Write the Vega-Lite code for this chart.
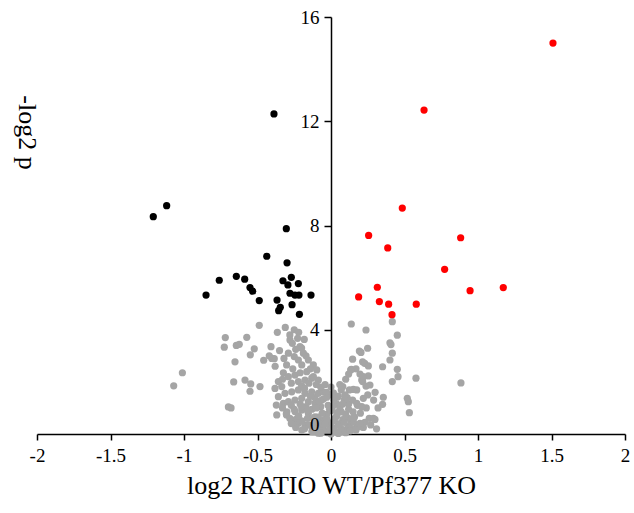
{
  "$schema": "https://vega.github.io/schema/vega-lite/v6.json",
  "width": 588,
  "height": 417,
  "autosize": "none",
  "padding": {"left": 37, "top": 17, "right": 9, "bottom": 79},
  "background": "white",
  "view": {"stroke": null},
  "config": {"font": "Liberation Serif"},
  "data": {"values": [
    {"x": -1.011, "y": 2.35, "g": "gray"}, {"x": -1.07, "y": 1.85, "g": "gray"}, {"x": -0.719, "y": 3.7, "g": "gray"},
    {"x": -0.726, "y": 3.33, "g": "gray"}, {"x": -0.644, "y": 3.4, "g": "gray"}, {"x": -0.624, "y": 3.44, "g": "gray"},
    {"x": -0.573, "y": 3.71, "g": "gray"}, {"x": -0.522, "y": 3.27, "g": "gray"}, {"x": -0.549, "y": 3.04, "g": "gray"},
    {"x": -0.653, "y": 2.77, "g": "gray"}, {"x": -0.662, "y": 2.0, "g": "gray"}, {"x": -0.585, "y": 2.07, "g": "gray"},
    {"x": -0.546, "y": 1.92, "g": "gray"}, {"x": -0.551, "y": 1.64, "g": "gray"}, {"x": -0.698, "y": 1.04, "g": "gray"},
    {"x": -0.68, "y": 1.0, "g": "gray"}, {"x": -0.488, "y": 4.17, "g": "gray"}, {"x": -0.483, "y": 1.82, "g": "gray"},
    {"x": -0.365, "y": 3.9, "g": "gray"}, {"x": -0.311, "y": 4.09, "g": "gray"}, {"x": -0.458, "y": 2.83, "g": "gray"},
    {"x": -0.386, "y": 2.89, "g": "gray"}, {"x": -0.372, "y": 1.11, "g": "gray"}, {"x": -0.369, "y": 0.73, "g": "gray"},
    {"x": -0.304, "y": 0.77, "g": "gray"}, {"x": -0.256, "y": 0.41, "g": "gray"}, {"x": -0.408, "y": 3.35, "g": "gray"},
    {"x": -0.403, "y": 2.9, "g": "gray"}, {"x": -0.302, "y": 2.65, "g": "gray"}, {"x": -0.324, "y": 2.35, "g": "gray"},
    {"x": -0.279, "y": 3.61, "g": "gray"}, {"x": -0.263, "y": 3.48, "g": "gray"}, {"x": -0.227, "y": 3.67, "g": "gray"},
    {"x": -0.182, "y": 3.63, "g": "gray"}, {"x": -0.24, "y": 3.25, "g": "gray"}, {"x": -0.211, "y": 3.35, "g": "gray"},
    {"x": -0.29, "y": 3.1, "g": "gray"}, {"x": -0.25, "y": 2.97, "g": "gray"}, {"x": -0.188, "y": 3.1, "g": "gray"},
    {"x": -0.222, "y": 2.84, "g": "gray"}, {"x": -0.154, "y": 2.84, "g": "gray"}, {"x": -0.199, "y": 2.65, "g": "gray"},
    {"x": -0.12, "y": 2.65, "g": "gray"}, {"x": -0.165, "y": 2.39, "g": "gray"}, {"x": -0.097, "y": 2.46, "g": "gray"},
    {"x": -0.29, "y": 2.2, "g": "gray"}, {"x": -0.245, "y": 2.26, "g": "gray"}, {"x": -0.222, "y": 2.01, "g": "gray"},
    {"x": -0.177, "y": 2.07, "g": "gray"}, {"x": -0.131, "y": 2.14, "g": "gray"}, {"x": -0.086, "y": 2.07, "g": "gray"},
    {"x": -0.358, "y": 2.01, "g": "gray"}, {"x": -0.335, "y": 1.82, "g": "gray"}, {"x": -0.381, "y": 1.75, "g": "gray"},
    {"x": -0.313, "y": 1.56, "g": "gray"}, {"x": -0.267, "y": 1.62, "g": "gray"}, {"x": -0.222, "y": 1.69, "g": "gray"},
    {"x": -0.177, "y": 1.56, "g": "gray"}, {"x": -0.131, "y": 1.62, "g": "gray"}, {"x": -0.086, "y": 1.56, "g": "gray"},
    {"x": -0.052, "y": 1.62, "g": "gray"}, {"x": -0.358, "y": 1.43, "g": "gray"}, {"x": -0.324, "y": 1.18, "g": "gray"},
    {"x": -0.29, "y": 1.24, "g": "gray"}, {"x": -0.245, "y": 1.3, "g": "gray"}, {"x": -0.199, "y": 1.37, "g": "gray"},
    {"x": -0.154, "y": 1.24, "g": "gray"}, {"x": -0.109, "y": 1.18, "g": "gray"}, {"x": -0.063, "y": 1.3, "g": "gray"},
    {"x": -0.302, "y": 0.73, "g": "gray"}, {"x": -0.245, "y": 0.86, "g": "gray"}, {"x": -0.199, "y": 0.92, "g": "gray"},
    {"x": -0.154, "y": 0.79, "g": "gray"}, {"x": -0.109, "y": 0.66, "g": "gray"}, {"x": -0.267, "y": 0.54, "g": "gray"},
    {"x": -0.222, "y": 0.41, "g": "gray"}, {"x": -0.177, "y": 0.35, "g": "gray"}, {"x": -0.131, "y": 0.28, "g": "gray"},
    {"x": -0.086, "y": 0.35, "g": "gray"}, {"x": -0.063, "y": 0.54, "g": "gray"}, {"x": -0.199, "y": 0.15, "g": "gray"},
    {"x": -0.12, "y": 0.09, "g": "gray"}, {"x": -0.086, "y": 0.03, "g": "gray"},
    {"x": -0.42, "y": 3.0, "g": "gray"}, {"x": -0.38, "y": 2.6, "g": "gray"}, {"x": -0.35, "y": 3.2, "g": "gray"},
    {"x": -0.32, "y": 2.9, "g": "gray"}, {"x": -0.28, "y": 3.8, "g": "gray"}, {"x": -0.25, "y": 4.0, "g": "gray"},
    {"x": -0.22, "y": 3.9, "g": "gray"}, {"x": -0.2, "y": 3.3, "g": "gray"}, {"x": -0.17, "y": 3.0, "g": "gray"},
    {"x": -0.14, "y": 2.5, "g": "gray"}, {"x": -0.12, "y": 2.2, "g": "gray"}, {"x": -0.1, "y": 1.9, "g": "gray"},
    {"x": -0.07, "y": 1.8, "g": "gray"}, {"x": -0.04, "y": 1.9, "g": "gray"},
    {"x": -0.33, "y": 2.1, "g": "gray"}, {"x": -0.27, "y": 1.95, "g": "gray"}, {"x": -0.2, "y": 1.85, "g": "gray"},
    {"x": -0.15, "y": 1.95, "g": "gray"}, {"x": -0.26, "y": 2.5, "g": "gray"}, {"x": -0.21, "y": 2.35, "g": "gray"},
    {"x": -0.27, "y": 1.1, "g": "gray"}, {"x": -0.21, "y": 1.15, "g": "gray"}, {"x": -0.17, "y": 1.05, "g": "gray"},
    {"x": -0.13, "y": 0.95, "g": "gray"}, {"x": -0.23, "y": 0.6, "g": "gray"}, {"x": -0.16, "y": 0.6, "g": "gray"},
    {"x": -0.11, "y": 0.45, "g": "gray"}, {"x": -0.04, "y": 0.1, "g": "gray"}, {"x": 0.02, "y": 0.22, "g": "gray"},
    {"x": 0.08, "y": 0.1, "g": "gray"}, {"x": 0.11, "y": 0.2, "g": "gray"}, {"x": -0.06, "y": 0.25, "g": "gray"},
    {"x": 0.06, "y": 0.4, "g": "gray"}, {"x": -0.02, "y": 0.45, "g": "gray"}, {"x": 0.12, "y": 0.6, "g": "gray"},
    {"x": 0.07, "y": 0.85, "g": "gray"}, {"x": -0.03, "y": 0.75, "g": "gray"}, {"x": -0.07, "y": 1.05, "g": "gray"},
    {"x": 0.04, "y": 1.15, "g": "gray"}, {"x": 0.12, "y": 1.15, "g": "gray"}, {"x": -0.11, "y": 1.4, "g": "gray"},
    {"x": 0.0, "y": 1.5, "g": "gray"}, {"x": 0.09, "y": 1.3, "g": "gray"}, {"x": -0.01, "y": 0.95, "g": "gray"},
    {"x": -0.02, "y": 0.05, "g": "gray"}, {"x": 0.03, "y": 0.1, "g": "gray"}, {"x": 0.07, "y": 0.2, "g": "gray"},
    {"x": -0.05, "y": 0.15, "g": "gray"}, {"x": 0.1, "y": 0.05, "g": "gray"}, {"x": -0.1, "y": 0.2, "g": "gray"},
    {"x": 0.0, "y": 0.3, "g": "gray"}, {"x": 0.05, "y": 0.35, "g": "gray"}, {"x": -0.08, "y": 0.4, "g": "gray"},
    {"x": 0.12, "y": 0.3, "g": "gray"}, {"x": -0.15, "y": 0.35, "g": "gray"}, {"x": 0.15, "y": 0.2, "g": "gray"},
    {"x": 0.02, "y": 0.5, "g": "gray"}, {"x": -0.03, "y": 0.6, "g": "gray"}, {"x": 0.08, "y": 0.55, "g": "gray"},
    {"x": -0.12, "y": 0.6, "g": "gray"}, {"x": 0.14, "y": 0.45, "g": "gray"}, {"x": 0.18, "y": 0.35, "g": "gray"},
    {"x": -0.2, "y": 0.5, "g": "gray"}, {"x": 0.04, "y": 0.7, "g": "gray"}, {"x": -0.06, "y": 0.8, "g": "gray"},
    {"x": 0.1, "y": 0.75, "g": "gray"}, {"x": -0.16, "y": 0.9, "g": "gray"}, {"x": 0.0, "y": 0.9, "g": "gray"},
    {"x": 0.06, "y": 1.0, "g": "gray"}, {"x": -0.1, "y": 1.0, "g": "gray"}, {"x": 0.12, "y": 0.95, "g": "gray"},
    {"x": -0.02, "y": 1.1, "g": "gray"}, {"x": 0.08, "y": 1.15, "g": "gray"}, {"x": -0.2, "y": 1.05, "g": "gray"},
    {"x": -0.25, "y": 0.95, "g": "gray"}, {"x": 0.02, "y": 1.3, "g": "gray"}, {"x": -0.08, "y": 1.25, "g": "gray"},
    {"x": 0.05, "y": 1.45, "g": "gray"}, {"x": -0.14, "y": 1.45, "g": "gray"}, {"x": 0.11, "y": 1.4, "g": "gray"},
    {"x": -0.03, "y": 1.6, "g": "gray"}, {"x": 0.07, "y": 1.7, "g": "gray"}, {"x": -0.18, "y": 1.75, "g": "gray"},
    {"x": 0.0, "y": 1.8, "g": "gray"}, {"x": -0.22, "y": 0.7, "g": "gray"}, {"x": -0.28, "y": 0.6, "g": "gray"},
    {"x": 0.2, "y": 0.8, "g": "gray"}, {"x": 0.24, "y": 1.0, "g": "gray"}, {"x": 0.18, "y": 1.1, "g": "gray"},
    {"x": -0.3, "y": 0.85, "g": "gray"}, {"x": -0.33, "y": 1.0, "g": "gray"}, {"x": 0.26, "y": 0.6, "g": "gray"},
    {"x": 0.22, "y": 0.25, "g": "gray"}, {"x": -0.24, "y": 0.25, "g": "gray"}, {"x": 0.0, "y": 0.0, "g": "gray"},
    {"x": 0.05, "y": 0.02, "g": "gray"}, {"x": -0.07, "y": 0.03, "g": "gray"}, {"x": 0.13, "y": 0.12, "g": "gray"},
    {"x": -0.13, "y": 0.1, "g": "gray"}, {"x": 0.09, "y": 0.45, "g": "gray"}, {"x": -0.01, "y": 0.2, "g": "gray"},
    {"x": 0.16, "y": 0.65, "g": "gray"}, {"x": -0.18, "y": 0.2, "g": "gray"}, {"x": 0.27, "y": 0.35, "g": "gray"},
    {"x": 0.31, "y": 0.2, "g": "gray"}, {"x": -0.27, "y": 0.4, "g": "gray"}, {"x": -0.04, "y": 0.38, "g": "gray"},
    {"x": 0.03, "y": 0.62, "g": "gray"}, {"x": -0.09, "y": 0.65, "g": "gray"}, {"x": 0.01, "y": 1.05, "g": "gray"},
    {"x": 0.15, "y": 0.85, "g": "gray"}, {"x": -0.05, "y": 1.35, "g": "gray"}, {"x": 0.04, "y": 0.82, "g": "gray"},
    {"x": 0.06, "y": 1.9, "g": "gray"}, {"x": 0.1, "y": 2.1, "g": "gray"}, {"x": 0.12, "y": 2.3, "g": "gray"},
    {"x": 0.17, "y": 2.5, "g": "gray"}, {"x": 0.3, "y": 1.6, "g": "gray"}, {"x": 0.32, "y": 1.0, "g": "gray"},
    {"x": 0.29, "y": 1.3, "g": "gray"}, {"x": 0.25, "y": 1.5, "g": "gray"}, {"x": 0.23, "y": 0.45, "g": "gray"},
    {"x": 0.138, "y": 4.22, "g": "gray"}, {"x": 0.238, "y": 3.99, "g": "gray"}, {"x": 0.193, "y": 3.18, "g": "gray"},
    {"x": 0.204, "y": 3.13, "g": "gray"}, {"x": 0.249, "y": 3.29, "g": "gray"}, {"x": 0.147, "y": 2.87, "g": "gray"},
    {"x": 0.138, "y": 2.48, "g": "gray"}, {"x": 0.215, "y": 2.77, "g": "gray"}, {"x": 0.229, "y": 2.71, "g": "gray"},
    {"x": 0.254, "y": 2.61, "g": "gray"}, {"x": 0.197, "y": 2.3, "g": "gray"}, {"x": 0.209, "y": 2.07, "g": "gray"},
    {"x": 0.254, "y": 2.23, "g": "gray"}, {"x": 0.265, "y": 1.88, "g": "gray"}, {"x": 0.175, "y": 1.69, "g": "gray"},
    {"x": 0.288, "y": 0.6, "g": "gray"}, {"x": 0.197, "y": 0.28, "g": "gray"}, {"x": 0.152, "y": 0.47, "g": "gray"},
    {"x": 0.401, "y": 3.5, "g": "gray"}, {"x": 0.417, "y": 3.1, "g": "gray"}, {"x": 0.401, "y": 2.84, "g": "gray"},
    {"x": 0.351, "y": 2.58, "g": "gray"}, {"x": 0.451, "y": 2.48, "g": "gray"}, {"x": 0.456, "y": 2.2, "g": "gray"},
    {"x": 0.417, "y": 2.01, "g": "gray"}, {"x": 0.578, "y": 2.14, "g": "gray"}, {"x": 0.356, "y": 1.41, "g": "gray"},
    {"x": 0.351, "y": 1.14, "g": "gray"}, {"x": 0.519, "y": 1.37, "g": "gray"}, {"x": 0.526, "y": 1.24, "g": "gray"},
    {"x": 0.533, "y": 0.82, "g": "gray"}, {"x": 0.451, "y": 3.79, "g": "gray"}, {"x": 0.417, "y": 4.31, "g": "gray"},
    {"x": 0.408, "y": 3.43, "g": "gray"}, {"x": 0.884, "y": 1.96, "g": "gray"}, {"x": 0.299, "y": 0.56, "g": "gray"},
    {"x": 0.08, "y": 1.82, "g": "gray"}, {"x": 0.125, "y": 1.69, "g": "gray"}, {"x": 0.152, "y": 1.71, "g": "gray"},
    {"x": 0.095, "y": 1.5, "g": "gray"}, {"x": 0.016, "y": 1.58, "g": "gray"}, {"x": 0.043, "y": 1.41, "g": "gray"},
    {"x": -0.029, "y": 1.41, "g": "gray"}, {"x": 0.22, "y": 1.37, "g": "gray"}, {"x": 0.209, "y": 1.05, "g": "gray"},
    {"x": 0.147, "y": 1.3, "g": "gray"}, {"x": 0.175, "y": 1.18, "g": "gray"}, {"x": 0.152, "y": 0.6, "g": "gray"},
    {"x": 0.197, "y": 0.41, "g": "gray"}, {"x": 0.17, "y": 0.15, "g": "gray"}, {"x": 0.134, "y": 2.46, "g": "gray"},
    {"x": 0.22, "y": 2.2, "g": "gray"}, {"x": 0.215, "y": 2.01, "g": "gray"}, {"x": 0.238, "y": 1.84, "g": "gray"},
    {"x": -1.209, "y": 8.34, "g": "black"}, {"x": -1.118, "y": 8.76, "g": "black"}, {"x": -0.304, "y": 7.88, "g": "black"},
    {"x": -0.437, "y": 6.82, "g": "black"}, {"x": -0.299, "y": 6.57, "g": "black"}, {"x": -0.76, "y": 5.9, "g": "black"},
    {"x": -0.644, "y": 6.05, "g": "black"}, {"x": -0.587, "y": 5.94, "g": "black"}, {"x": -0.551, "y": 5.62, "g": "black"},
    {"x": -0.533, "y": 5.48, "g": "black"}, {"x": -0.85, "y": 5.33, "g": "black"}, {"x": -0.488, "y": 5.12, "g": "black"},
    {"x": -0.327, "y": 5.88, "g": "black"}, {"x": -0.27, "y": 6.01, "g": "black"}, {"x": -0.293, "y": 5.72, "g": "black"},
    {"x": -0.222, "y": 5.77, "g": "black"}, {"x": -0.279, "y": 5.4, "g": "black"}, {"x": -0.245, "y": 5.33, "g": "black"},
    {"x": -0.218, "y": 5.33, "g": "black"}, {"x": -0.136, "y": 5.33, "g": "black"}, {"x": -0.367, "y": 5.14, "g": "black"},
    {"x": -0.345, "y": 4.86, "g": "black"}, {"x": -0.356, "y": 4.73, "g": "black"}, {"x": -0.265, "y": 4.96, "g": "black"},
    {"x": -0.215, "y": 4.59, "g": "black"}, {"x": -0.388, "y": 12.28, "g": "black"},
    {"x": 1.51, "y": 15.0, "g": "red"}, {"x": 0.633, "y": 12.43, "g": "red"}, {"x": 0.485, "y": 8.67, "g": "red"},
    {"x": 0.256, "y": 7.62, "g": "red"}, {"x": 0.882, "y": 7.53, "g": "red"}, {"x": 0.386, "y": 7.14, "g": "red"},
    {"x": 0.773, "y": 6.32, "g": "red"}, {"x": 0.315, "y": 5.63, "g": "red"}, {"x": 1.172, "y": 5.62, "g": "red"},
    {"x": 0.946, "y": 5.5, "g": "red"}, {"x": 0.188, "y": 5.26, "g": "red"}, {"x": 0.329, "y": 5.08, "g": "red"},
    {"x": 0.392, "y": 4.98, "g": "red"}, {"x": 0.58, "y": 4.98, "g": "red"}, {"x": 0.415, "y": 4.58, "g": "red"}
  ]},
  "mark": {"type": "point", "shape": "circle", "filled": true, "size": 52, "opacity": 1},
  "encoding": {
    "x": {
      "field": "x", "type": "quantitative",
      "scale": {"domain": [-2, 2], "nice": false, "zero": false},
      "axis": {
        "title": "log2 RATIO WT/Pf377 KO",
        "values": [-2, -1.5, -1, -0.5, 0, 0.5, 1, 1.5, 2],
        "labelExpr": "'' + datum.value",
        "grid": false,
        "domainColor": "black", "domainWidth": 1.5,
        "tickColor": "black", "tickWidth": 1.5, "tickSize": 6,
        "labelFont": "Liberation Serif", "labelFontSize": 19, "labelColor": "black",
        "labelPadding": 6, "labelFlush": false, "labelOverlap": false,
        "titleFont": "Liberation Serif", "titleFontSize": 26, "titleFontWeight": "normal",
        "titleColor": "black", "titlePadding": 7
      }
    },
    "y": {
      "field": "y", "type": "quantitative",
      "scale": {"domain": [0, 16], "nice": false},
      "axis": {
        "title": "-log2 p",
        "values": [0, 4, 8, 12, 16],
        "offset": -294,
        "zindex": 1,
        "grid": false,
        "domainColor": "black", "domainWidth": 1.5,
        "tickColor": "black", "tickWidth": 1.5, "tickSize": 7,
        "labelFont": "Liberation Serif", "labelFontSize": 19, "labelColor": "black",
        "labelPadding": 5, "labelFlush": false, "labelOverlap": false,
        "labelBaseline": {"condition": {"test": "datum.value == 0", "value": "bottom"}, "value": "middle"},
        "titleFont": "Liberation Serif", "titleFontSize": 26, "titleFontWeight": "normal",
        "titleColor": "black", "titleAngle": 90, "titleX": -305, "titleY": 115,
        "titleAlign": "center", "titleBaseline": "middle"
      }
    },
    "color": {
      "field": "g", "type": "nominal",
      "scale": {"domain": ["gray", "black", "red"], "range": ["#a5a5a5", "#000000", "#ff0000"]},
      "legend": null
    }
  }
}
